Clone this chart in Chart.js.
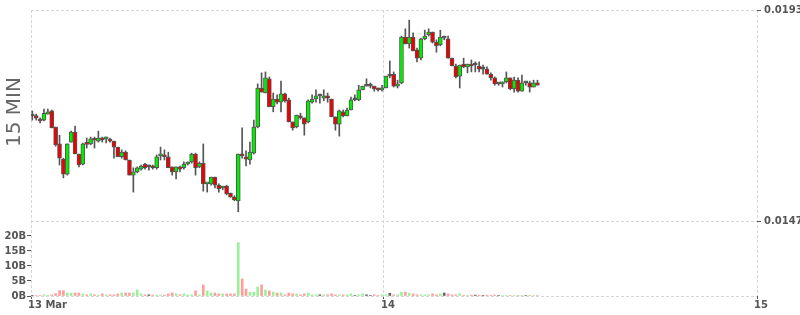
<!DOCTYPE html>
<html>
<head>
<meta charset="utf-8">
<script src="https://cdn.jsdelivr.net/npm/chart.js@4.4.1/dist/chart.umd.min.js"></script>
<style>
  html, body { margin: 0; padding: 0; background: #fff; }
  #wrap { width: 800px; height: 315px; }
</style>
</head>
<body>
<div id="wrap"><canvas id="chart" width="800" height="315"></canvas></div>
<script>
// 15 min candles, first one opens 13 Mar 01:15 (hours counted from 13 Mar 00:00)
const firstCandleHour = 1.25;
const candleStep = 0.25;

const open = [
  0.01699, 0.01700, 0.01692, 0.01690, 0.01703, 0.01710, 0.01675, 0.01638, 0.01605, 0.01572,
  0.01642, 0.01664, 0.01616, 0.01594, 0.01638, 0.01638, 0.01647, 0.01644, 0.01651, 0.01649,
  0.01647, 0.01644, 0.01631, 0.01610, 0.01620, 0.01603, 0.01570, 0.01577, 0.01583, 0.01594,
  0.01588, 0.01588, 0.01586, 0.01612, 0.01612, 0.01610, 0.01588, 0.01577, 0.01588, 0.01586,
  0.01594, 0.01599, 0.01616, 0.01588, 0.01596, 0.01551, 0.01551, 0.01566, 0.01548, 0.01542,
  0.01546, 0.01531, 0.01522, 0.01514, 0.01616, 0.01610, 0.01603, 0.01618, 0.01675, 0.01760,
  0.01749, 0.01780, 0.01719, 0.01736, 0.01729, 0.01747, 0.01734, 0.01686, 0.01675, 0.01699,
  0.01695, 0.01686, 0.01729, 0.01736, 0.01743, 0.01738, 0.01743, 0.01736, 0.01697, 0.01681,
  0.01708, 0.01699, 0.01712, 0.01734, 0.01734, 0.01756, 0.01764, 0.01764, 0.01764, 0.01758,
  0.01756, 0.01760, 0.01786, 0.01790, 0.01764, 0.01771, 0.01871, 0.01856, 0.01871, 0.01843,
  0.01825, 0.01867, 0.01876, 0.01882, 0.01860, 0.01854, 0.01869, 0.01867, 0.01825, 0.01808,
  0.01786, 0.01812, 0.01806, 0.01812, 0.01810, 0.01808, 0.01801, 0.01801, 0.01790, 0.01782,
  0.01769, 0.01769, 0.01773, 0.01782, 0.01758, 0.01777, 0.01753, 0.01771, 0.01771, 0.01762,
  0.01771
];
const high = [
  0.01710, 0.01703, 0.01695, 0.01714, 0.01714, 0.01712, 0.01675, 0.01657, 0.01607, 0.01638,
  0.01666, 0.01677, 0.01616, 0.01640, 0.01651, 0.01653, 0.01653, 0.01666, 0.01653, 0.01653,
  0.01651, 0.01644, 0.01631, 0.01625, 0.01623, 0.01603, 0.01586, 0.01588, 0.01592, 0.01596,
  0.01592, 0.01592, 0.01614, 0.01631, 0.01625, 0.01620, 0.01588, 0.01588, 0.01590, 0.01599,
  0.01599, 0.01618, 0.01618, 0.01599, 0.01638, 0.01553, 0.01566, 0.01566, 0.01551, 0.01546,
  0.01548, 0.01531, 0.01525, 0.01616, 0.01673, 0.01623, 0.01642, 0.01690, 0.01769, 0.01793,
  0.01795, 0.01784, 0.01749, 0.01745, 0.01775, 0.01749, 0.01738, 0.01686, 0.01701, 0.01705,
  0.01695, 0.01734, 0.01745, 0.01756, 0.01745, 0.01756, 0.01749, 0.01736, 0.01697, 0.01712,
  0.01712, 0.01716, 0.01740, 0.01745, 0.01766, 0.01764, 0.01780, 0.01771, 0.01764, 0.01760,
  0.01766, 0.01786, 0.01819, 0.01795, 0.01777, 0.01873, 0.01889, 0.01908, 0.01880, 0.01847,
  0.01869, 0.01886, 0.01889, 0.01882, 0.01865, 0.01886, 0.01873, 0.01873, 0.01825, 0.01812,
  0.01810, 0.01825, 0.01812, 0.01821, 0.01817, 0.01817, 0.01810, 0.01806, 0.01793, 0.01784,
  0.01771, 0.01773, 0.01795, 0.01782, 0.01784, 0.01782, 0.01788, 0.01773, 0.01775, 0.01777,
  0.01777
];
const low = [
  0.01690, 0.01690, 0.01684, 0.01688, 0.01703, 0.01673, 0.01633, 0.01592, 0.01564, 0.01570,
  0.01642, 0.01616, 0.01588, 0.01592, 0.01629, 0.01636, 0.01629, 0.01642, 0.01642, 0.01640,
  0.01642, 0.01607, 0.01610, 0.01607, 0.01603, 0.01570, 0.01533, 0.01575, 0.01581, 0.01583,
  0.01581, 0.01583, 0.01583, 0.01603, 0.01603, 0.01586, 0.01570, 0.01562, 0.01577, 0.01583,
  0.01592, 0.01596, 0.01570, 0.01586, 0.01535, 0.01533, 0.01548, 0.01542, 0.01533, 0.01538,
  0.01527, 0.01522, 0.01514, 0.01490, 0.01607, 0.01590, 0.01594, 0.01616, 0.01673, 0.01751,
  0.01749, 0.01719, 0.01708, 0.01725, 0.01708, 0.01729, 0.01686, 0.01668, 0.01673, 0.01692,
  0.01657, 0.01684, 0.01727, 0.01729, 0.01727, 0.01732, 0.01729, 0.01697, 0.01668, 0.01655,
  0.01697, 0.01699, 0.01712, 0.01732, 0.01732, 0.01756, 0.01764, 0.01760, 0.01753, 0.01753,
  0.01753, 0.01760, 0.01782, 0.01762, 0.01760, 0.01769, 0.01856, 0.01847, 0.01841, 0.01817,
  0.01821, 0.01865, 0.01873, 0.01858, 0.01838, 0.01852, 0.01865, 0.01825, 0.01808, 0.01782,
  0.01760, 0.01804, 0.01793, 0.01795, 0.01795, 0.01795, 0.01790, 0.01790, 0.01777, 0.01766,
  0.01766, 0.01762, 0.01771, 0.01756, 0.01751, 0.01751, 0.01753, 0.01766, 0.01751, 0.01762,
  0.01766
];
const close = [
  0.01699, 0.01694, 0.01688, 0.01705, 0.01708, 0.01673, 0.01636, 0.01607, 0.01572, 0.01638,
  0.01664, 0.01616, 0.01592, 0.01638, 0.01637, 0.01649, 0.01646, 0.01651, 0.01647, 0.01650,
  0.01644, 0.01631, 0.01610, 0.01620, 0.01603, 0.01570, 0.01577, 0.01586, 0.01590, 0.01586,
  0.01588, 0.01586, 0.01610, 0.01613, 0.01610, 0.01586, 0.01577, 0.01588, 0.01583, 0.01594,
  0.01596, 0.01616, 0.01586, 0.01596, 0.01551, 0.01553, 0.01566, 0.01548, 0.01540, 0.01546,
  0.01529, 0.01522, 0.01516, 0.01616, 0.01612, 0.01605, 0.01620, 0.01675, 0.01760, 0.01751,
  0.01782, 0.01719, 0.01736, 0.01729, 0.01747, 0.01732, 0.01686, 0.01673, 0.01701, 0.01695,
  0.01681, 0.01732, 0.01736, 0.01743, 0.01743, 0.01743, 0.01738, 0.01697, 0.01681, 0.01710,
  0.01699, 0.01712, 0.01734, 0.01734, 0.01756, 0.01764, 0.01764, 0.01764, 0.01758, 0.01756,
  0.01760, 0.01786, 0.01786, 0.01764, 0.01769, 0.01871, 0.01856, 0.01871, 0.01841, 0.01825,
  0.01867, 0.01873, 0.01882, 0.01860, 0.01852, 0.01871, 0.01869, 0.01825, 0.01808, 0.01784,
  0.01810, 0.01806, 0.01812, 0.01808, 0.01810, 0.01801, 0.01801, 0.01790, 0.01782, 0.01769,
  0.01769, 0.01773, 0.01782, 0.01758, 0.01777, 0.01753, 0.01771, 0.01771, 0.01762, 0.01771,
  0.01766
];
// volume in billions
const volume = [
  0.1, 0.2, 0.2, 0.4, 0.1, 0.4, 0.8, 1.8, 1.8, 1.0,
  1.0, 1.0, 1.0, 0.7, 0.4, 0.7, 0.4, 0.3, 0.7, 0.4,
  0.4, 0.4, 0.7, 1.0, 1.0, 1.0, 1.0, 2.0, 0.7, 0.4,
  0.4, 0.3, 0.3, 0.3, 0.3, 0.7, 1.0, 0.7, 0.4, 0.7,
  0.4, 0.4, 1.7, 0.4, 3.7, 1.7, 1.0, 1.0, 0.7, 0.7,
  0.7, 0.7, 0.7, 17.8, 5.7, 2.3, 1.3, 1.3, 3.0, 3.7,
  2.0, 1.7, 1.3, 1.0, 1.0, 0.4, 1.0, 0.7, 0.7, 0.4,
  0.7, 1.0, 0.4, 0.4, 0.4, 0.4, 0.4, 0.7, 0.4, 0.4,
  0.4, 0.4, 0.7, 0.2, 0.4, 0.7, 0.4, 0.2, 0.4, 0.2,
  0.4, 0.4, 0.9, 0.4, 0.4, 1.3, 1.3, 0.9, 0.7, 0.4,
  0.4, 0.4, 0.4, 0.7, 0.4, 0.7, 1.0, 0.7, 0.4, 0.4,
  0.7, 0.2, 0.2, 0.3, 0.3, 0.3, 0.2, 0.3, 0.2, 0.3,
  0.15, 0.15, 0.15, 0.15, 0.15, 0.15, 0.15, 0.15, 0.15, 0.15,
  0.15
];

const priceTicks = [0.0147, 0.0193];
const volumeTicks = [0, 5, 10, 15, 20];
const xTicks = [1.29, 24, 48];
const xTickLabels = ['13 Mar', '14', '15'];

// candle drawn at the middle of its 15 min slot
const candleTime = open.map((_, i) => firstCandleHour + candleStep * i + candleStep / 2);
const dir = close.map((c, i) => (c > open[i] ? 1 : c < open[i] ? -1 : 0));

const bodyColor = dir.map(d => (d > 0 ? '#00ee00' : d < 0 ? '#ee0000' : '#555'));
const volColor = dir.map(d => (d > 0 ? '#9bef9b' : d < 0 ? '#ff9c9c' : '#666'));

const gridColor = '#d6d6d6';
const labelFont = { family: 'DejaVu Sans', size: 10, weight: 'bold' };

// big rotated "15 MIN" caption on the left
const sideTitle = {
  id: 'sideTitle',
  beforeDraw(chart) {
    const ctx = chart.ctx;
    ctx.save();
    ctx.translate(15, 112);
    ctx.rotate(-Math.PI / 2);
    ctx.font = '20px "DejaVu Sans"';
    ctx.fillStyle = '#666';
    ctx.textAlign = 'center';
    ctx.textBaseline = 'middle';
    ctx.fillText('15 MIN', 0, 0);
    ctx.restore();
  }
};

const ctx = document.getElementById('chart').getContext('2d');
new Chart(ctx, {
  type: 'bar',
  data: {
    datasets: [
      {
        label: 'body',
        data: candleTime.map((t, i) => ({ x: t, y: [open[i], close[i]] })),
        yAxisID: 'price',
        backgroundColor: bodyColor,
        borderColor: '#555',
        borderWidth: 1,
        borderSkipped: false,
        barThickness: 4,
        minBarLength: 2,
        grouped: false,
        order: 1
      },
      {
        label: 'wick',
        data: candleTime.map((t, i) => ({ x: t, y: [low[i], high[i]] })),
        yAxisID: 'price',
        backgroundColor: '#555',
        barThickness: 1,
        grouped: false,
        order: 2
      },
      {
        label: 'volume',
        data: candleTime.map((t, i) => ({ x: t, y: volume[i] })),
        yAxisID: 'vol',
        backgroundColor: volColor,
        barThickness: 2,
        grouped: false,
        order: 3
      }
    ]
  },
  options: {
    responsive: false,
    animation: false,
    events: [],
    layout: { padding: { top: 10, left: 0, right: 0, bottom: 0 } },
    plugins: { legend: { display: false }, tooltip: { enabled: false } },
    scales: {
      x: {
        type: 'linear',
        min: 1.29,
        max: 48,
        offset: false,
        afterBuildTicks: s => { s.ticks = xTicks.map(v => ({ value: v })); },
        afterFit: s => { s.height = 19; },
        grid: { offset: false, color: gridColor, tickColor: '#555', tickLength: 3, tickBorderDash: [] },
        border: { display: false, dash: [3, 2] },
        ticks: {
          align: 'start',
          labelOffset: -3,
          padding: 0,
          autoSkip: false,
          maxRotation: 0,
          color: '#555',
          font: labelFont,
          callback: (v, i) => xTickLabels[i]
        }
      },
      price: {
        type: 'linear',
        position: 'right',
        min: 0.013065,
        max: 0.0193,
        afterBuildTicks: s => { s.ticks = priceTicks.map(v => ({ value: v })); },
        afterFit: s => { s.width = 43; },
        grid: { color: gridColor, tickColor: '#555', tickLength: 4, tickBorderDash: [] },
        border: { display: false, dash: [3, 2] },
        ticks: { padding: 3, color: '#555', font: labelFont, callback: v => v.toFixed(4) }
      },
      vol: {
        type: 'linear',
        position: 'left',
        min: 0,
        max: 95.33,
        afterBuildTicks: s => { s.ticks = volumeTicks.map(v => ({ value: v })); },
        afterFit: s => { s.width = 31; },
        grid: {
          color: c => (c.tick && c.tick.value === 0 ? gridColor : 'rgba(0,0,0,0)'),
          tickColor: '#555',
          tickLength: 4,
          tickBorderDash: []
        },
        border: { display: false, dash: [3, 2] },
        ticks: { padding: 1, color: '#555', font: labelFont, callback: v => v + 'B' }
      }
    }
  },
  plugins: [sideTitle]
});
</script>
</body>
</html>
